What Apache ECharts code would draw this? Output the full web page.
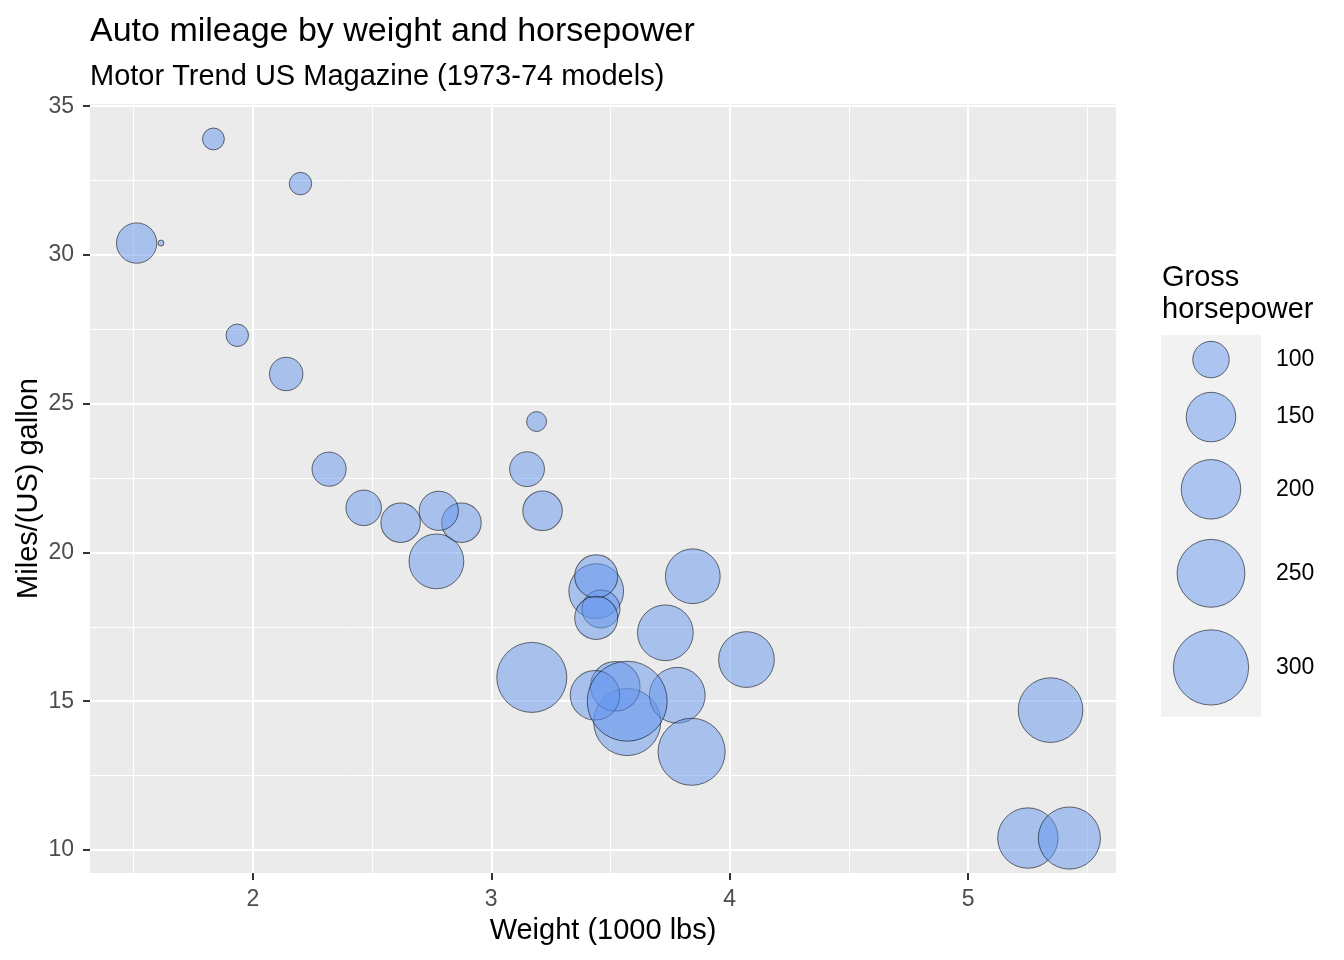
<!DOCTYPE html>
<html>
<head>
<meta charset="utf-8">
<script src="https://cdn.jsdelivr.net/npm/echarts@6/dist/echarts.min.js"></script>
<style>html,body{margin:0;padding:0;background:#fff}#c{width:1344px;height:960px}</style>
</head>
<body>
<div id="c"></div>
<script>
const cars = ["Mazda RX4","Mazda RX4 Wag","Datsun 710","Hornet 4 Drive","Hornet Sportabout","Valiant","Duster 360","Merc 240D","Merc 230","Merc 280","Merc 280C","Merc 450SE","Merc 450SL","Merc 450SLC","Cadillac Fleetwood","Lincoln Continental","Chrysler Imperial","Fiat 128","Honda Civic","Toyota Corolla","Toyota Corona","Dodge Challenger","AMC Javelin","Camaro Z28","Pontiac Firebird","Fiat X1-9","Porsche 914-2","Lotus Europa","Ford Pantera L","Ferrari Dino","Maserati Bora","Volvo 142E"];
const wt = [2.620,2.875,2.320,3.215,3.440,3.460,3.570,3.190,3.150,3.440,3.440,4.070,3.730,3.780,5.250,5.424,5.345,2.200,1.615,1.835,2.465,3.520,3.435,3.840,3.845,1.935,2.140,1.513,3.170,2.770,3.570,2.780];
const mpg = [21.0,21.0,22.8,21.4,18.7,18.1,14.3,24.4,22.8,19.2,17.8,16.4,17.3,15.2,10.4,10.4,14.7,32.4,30.4,33.9,21.5,15.5,15.2,13.3,19.2,27.3,26.0,30.4,15.8,19.7,15.0,21.4];
const hp = [110,110,93,110,175,105,245,62,95,123,123,180,180,180,205,215,230,66,52,65,97,150,150,245,175,66,91,113,264,175,335,109];
const xMajor = [2,3,4,5];
const xMinor = [1.5,2.5,3.5,4.5,5.5];
const yMajor = [10,15,20,25,30,35];
const yMinor = [12.5,17.5,22.5,27.5,32.5];
const legendHp = [100,150,200,250,300];

const FONT = '"Liberation Sans", Arial, sans-serif';
const FILL = 'rgba(100,149,237,0.5)';
const STROKE = 'rgba(0,0,0,0.55)';

// ggplot-like expanded ranges (5%)
function expand(arr){const mn=Math.min(...arr),mx=Math.max(...arr),d=(mx-mn)*0.05;return [mn-d,mx+d];}
const xr = expand(wt), yr = expand(mpg);
// area size scale
const hpMin = Math.min(...hp), hpMax = Math.max(...hp);
const dMin = 6, dMax = 80;
function diam(h){return dMin + Math.sqrt((h-hpMin)/(hpMax-hpMin))*(dMax-dMin);}

const chart = echarts.init(document.getElementById('c'));

const tickLabel = {color:'#4D4D4D', fontSize:23, fontFamily:FONT};
function axisPair(isX, range, major, minor){
  const base = {
    type:'value', min:range[0], max:range[1], gridIndex:0,
    position: isX ? 'bottom' : 'left', offset:0,
    axisLine:{show:false}
  };
  const main = Object.assign({}, base, {
    axisTick:{show:true, customValues:major, length:7, lineStyle:{color:'#333333', width:2}},
    axisLabel:Object.assign({customValues:major, margin: isX?15:16}, tickLabel),
    splitLine:{show:true, lineStyle:{color:'#FFFFFF', width:2}},
    name: isX ? 'Weight (1000 lbs)' : 'Miles/(US) gallon',
    nameLocation:'middle', nameGap: isX ? 43 : 47,
    nameMoveOverlap:false,
    nameTextStyle:{color:'#000', fontSize:29, fontFamily:FONT},
    z:1
  });
  const sub = Object.assign({}, base, {
    axisTick:{show:false, customValues:minor},
    axisLabel:{show:false, customValues:minor},
    splitLine:{show:true, lineStyle:{color:'#FFFFFF', width:1}},
    z:0
  });
  return [sub, main];
}

const data = wt.map((w,i)=>({name:cars[i], value:[w, mpg[i], hp[i]]}));

// legend graphics
const keyX = 1161, keyW = 100, keyTop = 335;
const graphics = [
  {type:'text', left:90, top:15, style:{text:'Auto mileage by weight and horsepower', fill:'#000', font:'34px '+FONT}},
  {type:'text', left:90, top:62, style:{text:'Motor Trend US Magazine (1973-74 models)', fill:'#000', font:'29px '+FONT}},
  {type:'text', left:1162, top:263, style:{text:'Gross', fill:'#000', font:'29px '+FONT}},
  {type:'text', left:1162, top:295, style:{text:'horsepower', fill:'#000', font:'29px '+FONT}}
];
const keyH = legendHp.map(h => 1.281*diam(h) + 2.4);
const totalH = keyH.reduce((a,b)=>a+b,0);
graphics.push({type:'rect', shape:{x:keyX, y:keyTop, width:keyW, height:totalH}, style:{fill:'#F2F2F2'}, z:0});
let yy = keyTop;
legendHp.forEach((h,i)=>{
  const cy = yy + keyH[i]/2;
  graphics.push({type:'circle', shape:{cx:keyX+keyW/2, cy:cy, r:diam(h)/2}, style:{fill:FILL, stroke:STROKE, lineWidth:1}, z:1});
  graphics.push({type:'text', x:1276, y:cy, style:{text:String(h), fill:'#000', font:'23px '+FONT, textVerticalAlign:'middle', verticalAlign:'middle'}, z:1});
  yy += keyH[i];
});

chart.setOption({
  animation:false,
  backgroundColor:'#FFFFFF',
  textStyle:{fontFamily:FONT},
  grid:{left:90, right:228, top:104, bottom:87, show:true, backgroundColor:'#EBEBEB', borderWidth:0, containLabel:false},
  xAxis: axisPair(true, xr, xMajor, xMinor),
  yAxis: axisPair(false, yr, yMajor, yMinor),
  series:[{
    type:'scatter', xAxisIndex:1, yAxisIndex:1,
    data:data,
    symbol:'circle',
    symbolSize: v => diam(v[2]),
    itemStyle:{color:FILL, borderColor:STROKE, borderWidth:1, opacity:1},
    emphasis:{disabled:true},
    z:5
  }],
  graphic: graphics
});
</script>
</body>
</html>
